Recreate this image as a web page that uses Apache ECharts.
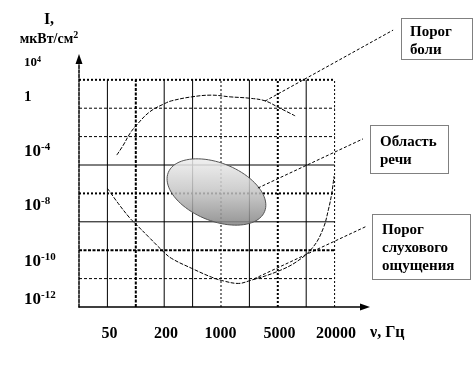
<!DOCTYPE html>
<html><head><meta charset="utf-8">
<script src="https://cdn.jsdelivr.net/npm/echarts@6/dist/echarts.min.js"></script>
<style>html,body{margin:0;padding:0;background:#fff}#c{width:475px;height:366px}</style>
</head><body><div id="c"></div>
<script>
// ---- data (grid units: one grid cell = 1) ----
const xTickValues = [1.07, 3.06, 4.98, 7.06, 9.05];
const xTickLabels = ['50', '200', '1000', '5000', '20000'];
const yTickValues = [8.59, 7.39, 5.46, 3.56, 1.60, 0.27];
const yTickLabels = ['{s|10}{ss|4}', '{m|1}', '{b|10}{sup|-4}', '{b|10}{sup|-8}', '{b|10}{sup|-10}', '{b|10}{sup|-12}'];

const painX = [1.33, 1.56, 1.80, 2.03, 2.50, 3.03, 3.26, 3.97, 4.67, 5.32, 6.02, 6.55, 7.02, 7.61];
const painY = [5.35, 5.70, 6.12, 6.41, 6.88, 7.17, 7.26, 7.40, 7.46, 7.40, 7.35, 7.26, 7.03, 6.73];

const hearX = [1.00, 1.38, 1.80, 2.03, 2.44, 2.97, 3.26, 3.97, 4.67, 5.08, 5.61, 6.02, 6.96, 7.67, 8.25, 8.60, 8.78, 8.90, 8.98];
const hearY = [4.18, 3.65, 3.12, 2.89, 2.48, 1.95, 1.71, 1.36, 1.05, 0.92, 0.83, 0.93, 1.24, 1.60, 2.12, 2.77, 3.42, 4.00, 4.61];

const speechCenter = [4.84, 4.05];
const speechRadii = [1.83, 1.02];
const speechAngle = 22;

const vGridX = [1, 2, 3, 4, 5, 6, 7, 8, 9];
const vGridStyle = ['solid', 'dashH', 'solid', 'solid', 'dot', 'solid', 'dotH', 'solid', 'dot'];
const hGridY = [1, 2, 3, 4, 5, 6, 7, 8];
const hGridStyle = ['dash', 'dashH', 'solid', 'dotH', 'solid', 'dash', 'dash', 'dotH'];
const gridTopY = 8, gridRightX = 9;

const leaderFrom = [[6.55, 7.25], [6.30, 4.19], [6.16, 0.99]];
const leaderTo = [[11.06, 9.75], [10.0, 5.92], [10.14, 2.85]];

const boxTexts = ['Порог\nболи', 'Область\nречи', 'Порог\nслухового\nощущения'];

// ---- chart ----
const FONT = '"Liberation Serif", "Times New Roman", serif';
const styles = {
  solid: {type: 'solid', width: 1},
  dash: {type: [3, 2], width: 1},
  dashH: {type: [3, 1.5], width: 2},
  dot: {type: [2, 2], width: 1},
  dotH: {type: [2, 2], width: 2}
};
const series = [];
vGridX.forEach((x, i) => series.push({
  type: 'line', data: [[x, 0], [x, gridTopY]], symbol: 'none', silent: true, z: 1,
  lineStyle: Object.assign({color: '#000'}, styles[vGridStyle[i]])
}));
hGridY.forEach((y, i) => series.push({
  type: 'line', data: [[0, y], [gridRightX, y]], symbol: 'none', silent: true, z: 1,
  lineStyle: Object.assign({color: '#000'}, styles[hGridStyle[i]])
}));
series.push({
  type: 'custom', z: 3, silent: true, clip: false,
  data: [[speechCenter[0], speechCenter[1], speechRadii[0], speechRadii[1], speechAngle]],
  renderItem: function (params, api) {
    const c = api.coord([api.value(0), api.value(1)]);
    const s = api.size([1, 1]);
    const a = api.value(2) * s[0], b = api.value(3) * s[1];
    const th = api.value(4) * Math.PI / 180;
    const pts = [];
    for (let k = 0; k < 90; k++) {
      const t = k / 90 * Math.PI * 2;
      pts.push([c[0] + a * Math.cos(t) * Math.cos(th) - b * Math.sin(t) * Math.sin(th),
                c[1] + a * Math.cos(t) * Math.sin(th) + b * Math.sin(t) * Math.cos(th)]);
    }
    return {
      type: 'polygon', shape: {points: pts},
      style: {
        fill: new echarts.graphic.LinearGradient(0, 0, 0, 1, [
          {offset: 0, color: 'rgba(238,238,238,0.85)'},
          {offset: 0.45, color: 'rgba(200,200,200,0.85)'},
          {offset: 1, color: 'rgba(130,130,130,0.85)'}
        ]),
        stroke: '#555', lineWidth: 1
      }
    };
  }
});
series.push({
  type: 'line', smooth: 0.4, symbol: 'none', z: 4, silent: true,
  data: painX.map((x, i) => [x, painY[i]]),
  lineStyle: {color: '#000', width: 1, type: [4, 1.5]}
});
series.push({
  type: 'line', smooth: 0.4, symbol: 'none', z: 4, silent: true,
  data: hearX.map((x, i) => [x, hearY[i]]),
  lineStyle: {color: '#000', width: 1, type: [4, 1.5]}
});
series.push({
  type: 'custom', z: 5, silent: true, clip: false,
  data: leaderFrom.map((p, i) => [p[0], p[1], leaderTo[i][0], leaderTo[i][1]]),
  renderItem: function (params, api) {
    const p1 = api.coord([api.value(0), api.value(1)]);
    const p2 = api.coord([api.value(2), api.value(3)]);
    return {type: 'line', shape: {x1: p1[0], y1: p1[1], x2: p2[0], y2: p2[1]},
      style: {stroke: '#000', lineWidth: 1, lineDash: [3, 2]}};
  }
});

const boxes = [
  {x: 401, y: 18, w: 71, h: 41, tx: 410, ty: 23},
  {x: 370, y: 125, w: 78, h: 48, tx: 380, ty: 133},
  {x: 372, y: 214, w: 98, h: 65, tx: 382, ty: 221}
];
const graphic = [];
boxes.forEach((b, i) => {
  graphic.push({type: 'rect', shape: {x: b.x + 0.5, y: b.y + 0.5, width: b.w, height: b.h},
    style: {fill: '#fff', stroke: '#000', lineWidth: 1, lineDash: [1, 1]}, z: 10});
  graphic.push({type: 'text', x: b.tx, y: b.ty, z: 11,
    style: {text: boxTexts[i], fontFamily: FONT, fontWeight: 'bold', fontSize: 15, lineHeight: 18,
      fill: '#000', verticalAlign: 'top', align: 'left'}});
});

const chart = echarts.init(document.getElementById('c'), null, {renderer: 'canvas'});
chart.setOption({
  animation: false,
  backgroundColor: '#fff',
  grid: {left: 79, top: 62, width: 283, height: 245, containLabel: false},
  xAxis: {
    type: 'value', min: 0, max: 9.965,
    axisLine: {show: true, symbol: ['none', 'triangle'], symbolSize: [7, 10], symbolOffset: [0, 3],
      lineStyle: {color: '#000', width: 1.5}},
    axisTick: {show: false}, splitLine: {show: false},
    axisLabel: {customValues: xTickValues, margin: 19,
      formatter: v => xTickLabels[xTickValues.indexOf(v)] ?? '',
      fontFamily: FONT, fontWeight: 'bold', fontSize: 16, color: '#000'},
    name: '{n|ν, Гц}', nameLocation: 'end', nameGap: 8,
    nameTextStyle: {align: 'left', verticalAlign: 'middle',
      rich: {n: {fontFamily: FONT, fontWeight: 'bold', fontSize: 16, color: '#000', padding: [52, 0, 0, 0]}}}
  },
  yAxis: {
    type: 'value', min: 0, max: 8.627,
    axisLine: {show: true, symbol: ['none', 'triangle'], symbolSize: [7, 10], symbolOffset: [0, 3],
      lineStyle: {color: '#000', width: 1.5, type: [3, 1.5]}},
    axisTick: {show: false}, splitLine: {show: false},
    axisLabel: {customValues: yTickValues, margin: 55, align: 'left',
      formatter: v => yTickLabels[yTickValues.indexOf(v)] ?? '',
      color: '#000',
      rich: {
        s: {fontFamily: FONT, fontWeight: 'bold', fontSize: 13, color: '#000'},
        ss: {fontFamily: FONT, fontWeight: 'bold', fontSize: 8, color: '#000', padding: [0, 0, 7, 0]},
        m: {fontFamily: FONT, fontWeight: 'bold', fontSize: 15, color: '#000'},
        b: {fontFamily: FONT, fontWeight: 'bold', fontSize: 17, color: '#000'},
        sup: {fontFamily: FONT, fontWeight: 'bold', fontSize: 11, color: '#000', padding: [0, 0, 9, 0]}
      }},
    name: '{a|I,}\n{b|мкВт/см}{c|2}', nameLocation: 'end', nameGap: 14,
    nameTextStyle: {align: 'center', verticalAlign: 'bottom', padding: [0, 60, 0, 0],
      rich: {
        a: {fontFamily: FONT, fontWeight: 'bold', fontSize: 16, color: '#000', lineHeight: 20, align: 'center'},
        b: {fontFamily: FONT, fontWeight: 'bold', fontSize: 14, color: '#000', lineHeight: 18},
        c: {fontFamily: FONT, fontWeight: 'bold', fontSize: 10, color: '#000', padding: [0, 0, 8, 0]}
      }}
  },
  graphic: graphic,
  series: series
});
</script>
</body></html>
